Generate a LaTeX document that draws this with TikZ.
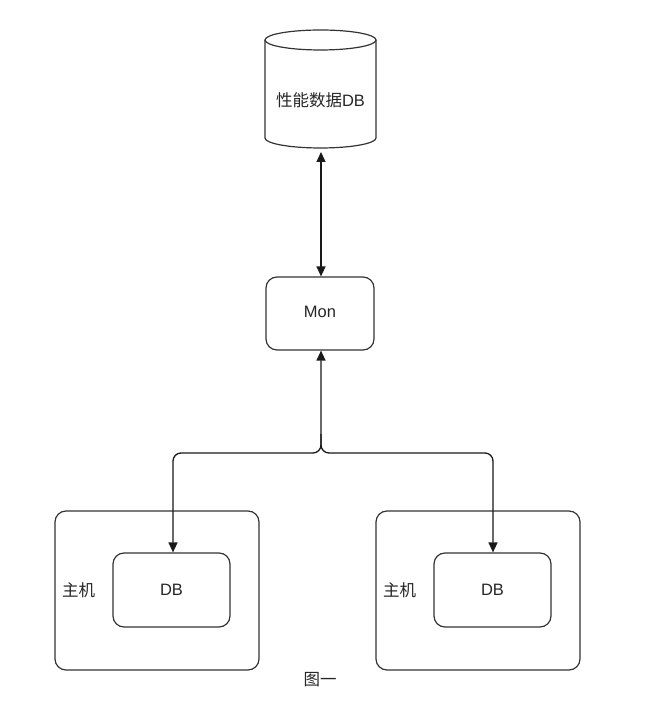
\documentclass[tikz,border=0pt]{standalone}
\usepackage{fontspec}
\setmainfont{Liberation Sans}
\newfontfamily\cjk{Noto Sans CJK SC}
\usetikzlibrary{arrows.meta}
\begin{document}
\begin{tikzpicture}[x=1pt,y=1pt,
  >={Triangle[length=10pt,width=9pt]},
  box/.style={draw=black!80, line width=1.2pt, rounded corners=11pt, inner sep=0pt},
  lbl/.style={text=black!85, font=\fontsize{16.5}{18}\selectfont, inner sep=0pt},
  conn/.style={draw=black!90, line width=1.3pt}]
\useasboundingbox (0,0) rectangle (665,704);
% cylinder
\draw[black!80, line width=1.2pt] (265,664) -- (265,566) arc (180:360:55.5pt and 10pt) -- (376,664);
\draw[black!80, line width=1.2pt] (320.5,664) ellipse (55.5pt and 10pt);
\node[minimum width=111pt, minimum height=128pt, inner sep=0pt] (pdb) at (320.5,620) {};
\node[lbl] (pdbt) at (320.5,604) {{\cjk 性能数据}DB};
% Mon
\node[box, minimum width=108pt, minimum height=73pt] (mon) at (320,390.5) {};
\node[lbl] (mont) at (320,392) {Mon};
% hosts
\node[box, minimum width=204pt, minimum height=159pt] (h1) at (157,113.5) {};
\node[box, minimum width=117pt, minimum height=74pt] (d1) at (171.5,114) {};
\node[lbl] (d1t) at (171.5,114) {DB};
\node[lbl, anchor=west] (h1t) at (62,114) {\cjk 主机};
\node[box, minimum width=204pt, minimum height=159pt] (h2) at (478,113.5) {};
\node[box, minimum width=117pt, minimum height=74pt] (d2) at (492.5,114) {};
\node[lbl] (d2t) at (492.5,114) {DB};
\node[lbl, anchor=west] (h2t) at (383,114) {\cjk 主机};
% caption
\node[lbl] (cap) at (320,24) {\cjk 图一};
% connectors
\coordinate (j) at (321,251);
\draw[conn, <->] (321,552) -- (mon.north -| 321,0);
\draw[conn, <->, rounded corners=8pt] (d1.north -| 173,0) -- (173,251) -- (j) -- (mon.south -| 321,0);
\draw[conn, ->, rounded corners=8pt] (321,270) -- (j) -- (493,251) -- (d2.north -| 493,0);
\end{tikzpicture}
\end{document}
